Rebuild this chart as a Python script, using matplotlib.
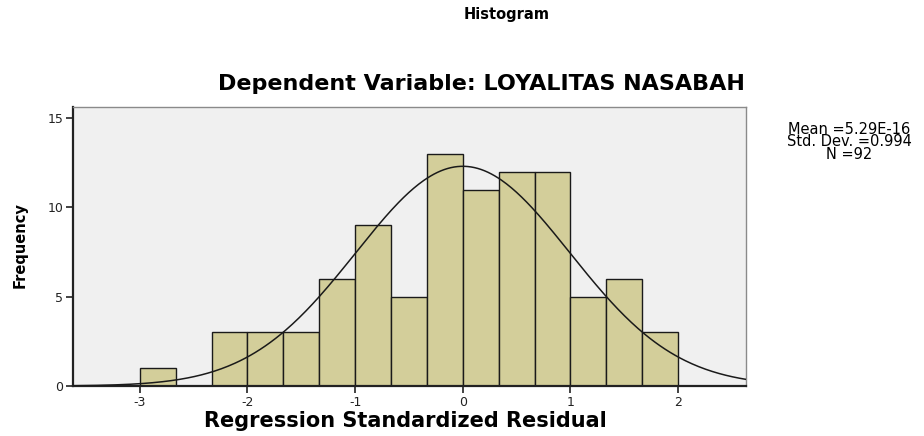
import numpy as np
import matplotlib
matplotlib.use("Agg")
import matplotlib.pyplot as plt

plt.rcParams['font.family'] = ['DejaVu Sans']

# Data
bin_edges = [-3.0, -8/3, -7/3, -2.0, -5/3, -4/3, -1.0, -2/3, -1/3, 0.0, 1/3, 2/3, 1.0, 4/3, 5/3, 2.0]
counts = [1, 0, 3, 3, 3, 6, 9, 5, 13, 11, 12, 12, 5, 6, 3]
mean_val = 5.29e-16
std_val = 0.994
n_val = 92
x_ticks = [-3, -2, -1, 0, 1, 2]
y_ticks = [0, 5, 10, 15]

fig = plt.figure(figsize=(9.24, 4.36), dpi=100)
ax = fig.add_axes([73/924, 1-386/436, (746-73)/924, (386-107)/436])
ax.set_facecolor('#f0f0f0')

edges = np.array(bin_edges)
widths = np.diff(edges)
ax.bar(edges[:-1], counts, width=widths, align='edge', color='#d3ce9a',
       edgecolor='#1a1a1a', linewidth=1.0, zorder=2)

xs = np.linspace(-3.62, 2.63, 400)
bw = 1/3
ys = n_val * bw / (std_val * np.sqrt(2*np.pi)) * np.exp(-0.5*((xs-mean_val)/std_val)**2)
ax.plot(xs, ys, color='#1a1a1a', linewidth=1.1, zorder=3)

ax.set_xlim(-3.62, 2.63)
ax.set_ylim(0, 15.63)
ax.set_xticks(x_ticks)
ax.set_yticks(y_ticks)
ax.set_xticklabels([str(t) for t in x_ticks], fontsize=9, color='#222222')
ax.set_yticklabels([str(t) for t in y_ticks], fontsize=9, color='#222222')
ax.tick_params(direction='out', length=5, width=1.2, color='#222222', pad=2)

for s in ['left', 'bottom']:
    ax.spines[s].set_color('#222222')
    ax.spines[s].set_linewidth(1.6)
for s in ['top', 'right']:
    ax.spines[s].set_color('#8a8a8a')
    ax.spines[s].set_linewidth(1.0)

fig.text(507/924, 1-14/436, 'Histogram', ha='center', va='center',
         fontsize=10.5, fontweight='bold')
fig.text(481/924, 1-84/436, 'Dependent Variable: LOYALITAS NASABAH', ha='center',
         va='center', fontsize=16, fontweight='bold')
fig.text(405/924, 1-421/436, 'Regression Standardized Residual', ha='center',
         va='center', fontsize=15, fontweight='bold')
fig.text(20/924, 1-245/436, 'Frequency', ha='center', va='center', rotation=90,
         fontsize=10.5, fontweight='bold')

fig.text(849/924, 1-142/436, 'Mean =5.29E-16\nStd. Dev. =0.994\nN =92',
         ha='center', va='center', fontsize=10.5, linespacing=0.78,
         multialignment='center')

fig.savefig('out.png', dpi=100)
